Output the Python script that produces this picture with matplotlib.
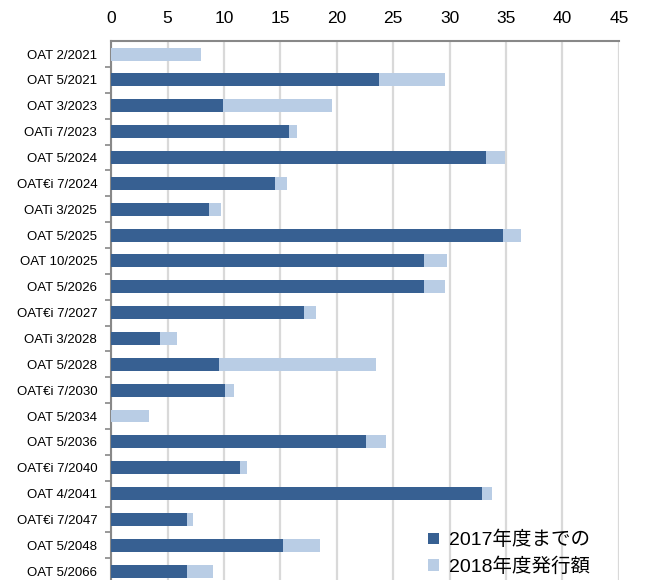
import numpy as np
import matplotlib.pyplot as plt
from matplotlib.ticker import FixedLocator

plt.rcParams['font.family'] = ['Liberation Sans', 'Noto Sans CJK JP', 'DejaVu Sans']

bonds = ['OAT 2/2021', 'OAT 5/2021', 'OAT 3/2023', 'OATi 7/2023', 'OAT 5/2024',
         'OAT€i 7/2024', 'OATi 3/2025', 'OAT 5/2025', 'OAT 10/2025', 'OAT 5/2026',
         'OAT€i 7/2027', 'OATi 3/2028', 'OAT 5/2028', 'OAT€i 7/2030', 'OAT 5/2034',
         'OAT 5/2036', 'OAT€i 7/2040', 'OAT 4/2041', 'OAT€i 7/2047', 'OAT 5/2048',
         'OAT 5/2066']

# outstanding up to FY2017
until_2017 = [0.0, 23.7, 9.9, 15.75, 33.2, 14.55, 8.65, 34.75, 27.7, 27.7,
              17.1, 4.35, 9.55, 10.05, 0.0, 22.6, 11.4, 32.85, 6.75, 15.2, 6.75]
# totals incl. FY2018 issuance
total = [8.0, 29.6, 19.6, 16.5, 34.9, 15.6, 9.7, 36.3, 29.75, 29.6,
         18.2, 5.8, 23.5, 10.9, 3.35, 24.4, 12.0, 33.75, 7.3, 18.5, 9.0]
issued_2018 = [t - d for t, d in zip(total, until_2017)]

legend_labels = ['2017年度までの', '2018年度発行額']
dark = '#376092'
light = '#b9cde5'

fig = plt.figure(figsize=(6.46, 5.8), dpi=100)
ax = fig.add_axes([0.172, -0.007, 0.786, 0.936])

y = np.arange(len(bonds))
ax.barh(y, until_2017, height=0.5, color=dark, label=legend_labels[0], zorder=3)
ax.barh(y, issued_2018, left=until_2017, height=0.5, color=light,
        label=legend_labels[1], zorder=3)

ax.set_xlim(0, 45)
ax.set_xticks(np.arange(0, 46, 5))
ax.set_ylim(len(bonds) - 0.5, -0.5)
ax.set_yticks(y)
ax.set_yticklabels(bonds, fontsize=9.5)
ax.yaxis.set_minor_locator(FixedLocator(np.arange(0.5, len(bonds) - 0.5, 1)))

ax.xaxis.tick_top()
ax.tick_params(axis='x', which='major', length=0, labelsize=12.5, pad=11)
ax.tick_params(axis='y', which='major', length=0, pad=10)
ax.tick_params(axis='y', which='minor', length=4, width=1.2, color='#888888')

ax.grid(axis='x', color='#d9d9d9', linewidth=1.6, zorder=0)
for s in ['right', 'bottom']:
    ax.spines[s].set_visible(False)
for s in ['top', 'left']:
    ax.spines[s].set_color('#888888')
    ax.spines[s].set_linewidth(1.5)

ax.legend(loc='lower left', bbox_to_anchor=(0.642, -0.016), bbox_transform=fig.transFigure,
          frameon=False, fontsize=14, handlelength=0.55, handleheight=0.55,
          handletextpad=0.5, labelspacing=0.4, borderpad=0.2)

fig.savefig('out.png', dpi=100)
